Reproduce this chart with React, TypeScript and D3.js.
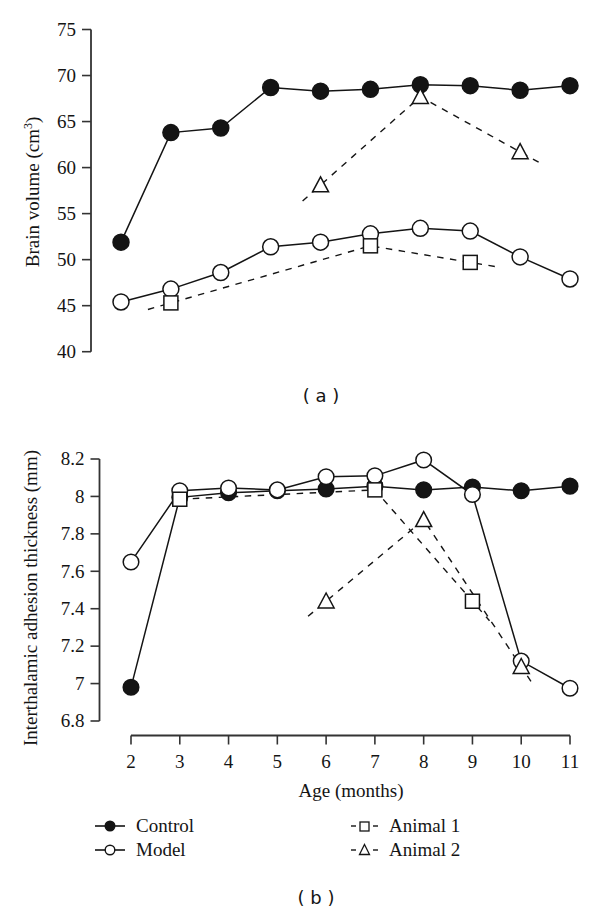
import React from 'react';
import * as d3 from 'd3';

// ---------- data ----------
const months = [2, 3, 4, 5, 6, 7, 8, 9, 10, 11];

// (a) brain volume (cm3)
const volControl = [51.9, 63.8, 64.3, 68.7, 68.3, 68.5, 69.0, 68.9, 68.4, 68.9];
const volModel = [45.4, 46.8, 48.6, 51.4, 51.9, 52.8, 53.4, 53.1, 50.3, 47.9];
const volAnimal1Months = [3, 7, 9];
const volAnimal1 = [45.3, 51.5, 49.7];
const volAnimal2Months = [6, 8, 10];
const volAnimal2 = [58.1, 67.7, 61.7];
const volTicks = [40, 45, 50, 55, 60, 65, 70, 75];

// (b) interthalamic adhesion thickness (mm)
const thkControl = [6.98, 7.995, 8.02, 8.03, 8.04, 8.055, 8.035, 8.05, 8.03, 8.055];
const thkModel = [7.65, 8.03, 8.045, 8.035, 8.105, 8.11, 8.195, 8.01, 7.12, 6.975];
const thkAnimal1Months = [3, 7, 9];
const thkAnimal1 = [7.985, 8.035, 7.44];
const thkAnimal2Months = [6, 8, 10];
const thkAnimal2 = [7.44, 7.875, 7.09];
const thkTicks = [6.8, 7, 7.2, 7.4, 7.6, 7.8, 8, 8.2];
const monthTicks = [2, 3, 4, 5, 6, 7, 8, 9, 10, 11];

const legendSolid = ['Control', 'Model'];
const legendDashed = ['Animal 1', 'Animal 2'];

// ---------- style ----------
const SERIF = '"Liberation Serif", "Times New Roman", serif';
const SANS = '"DejaVu Sans", Verdana, sans-serif';
const INK = '#141414';
const AXIS = '#333';

type P = [number, number];

function extendEnds(pts: P[], left: number, right: number): P[] {
  const out = pts.slice();
  if (pts.length >= 2) {
    const [a, b] = [pts[0], pts[1]];
    const s0 = (b[1] - a[1]) / (b[0] - a[0]);
    if (left > 0) out.unshift([a[0] - left, a[1] - s0 * left]);
    const [c, d] = [pts[pts.length - 2], pts[pts.length - 1]];
    const s1 = (d[1] - c[1]) / (d[0] - c[0]);
    if (right > 0) out.push([d[0] + right, d[1] + s1 * right]);
  }
  return out;
}

function Circles({ xs, ys, x, y, r, filled }: any) {
  return (
    <g>
      {xs.map((m: number, i: number) => (
        <circle key={i} cx={x(m)} cy={y(ys[i])} r={r}
          fill={filled ? INK : '#fff'} stroke={INK} strokeWidth={1.5} />
      ))}
    </g>
  );
}

function Squares({ xs, ys, x, y, s }: any) {
  return (
    <g>
      {xs.map((m: number, i: number) => (
        <rect key={i} x={x(m) - s / 2} y={y(ys[i]) - s / 2} width={s} height={s}
          fill="#fff" stroke={INK} strokeWidth={1.5} />
      ))}
    </g>
  );
}

function Triangles({ xs, ys, x, y, w, h }: any) {
  return (
    <g>
      {xs.map((m: number, i: number) => {
        const cx = x(m), cy = y(ys[i]);
        const d = `M${cx},${cy - h * 0.55}L${cx + w / 2},${cy + h * 0.45}L${cx - w / 2},${cy + h * 0.45}Z`;
        return <path key={i} d={d} fill="#fff" stroke={INK} strokeWidth={1.5} />;
      })}
    </g>
  );
}

function Panel({ xScale, yScale, control, model, a1m, a1, a2m, a2, ext, r }: any) {
  const line = d3.line<P>().x(d => xScale(d[0])).y(d => yScale(d[1]));
  const cPts: P[] = months.map((m, i) => [m, control[i]]);
  const mPts: P[] = months.map((m, i) => [m, model[i]]);
  const a1Pts = extendEnds(a1m.map((m: number, i: number) => [m, a1[i]]), ext[0], ext[1]);
  const a2Pts = extendEnds(a2m.map((m: number, i: number) => [m, a2[i]]), ext[2], ext[3]);
  return (
    <g>
      <path d={line(cPts) || ''} fill="none" stroke={INK} strokeWidth={1.5} />
      <path d={line(mPts) || ''} fill="none" stroke={INK} strokeWidth={1.5} />
      <path d={line(a1Pts) || ''} fill="none" stroke={INK} strokeWidth={1.4} strokeDasharray="6.5,6.5" />
      <path d={line(a2Pts) || ''} fill="none" stroke={INK} strokeWidth={1.4} strokeDasharray="6.5,6.5" />
      <Circles xs={months} ys={control} x={xScale} y={yScale} r={r} filled />
      <Circles xs={months} ys={model} x={xScale} y={yScale} r={r} filled={false} />
      <Squares xs={a1m} ys={a1} x={xScale} y={yScale} s={14} />
      <Triangles xs={a2m} ys={a2} x={xScale} y={yScale} w={16} h={15} />
    </g>
  );
}

function YAxis({ scale, ticks, x, fmt }: any) {
  const [lo, hi] = d3.extent(ticks) as [number, number];
  return (
    <g>
      <line x1={x} x2={x} y1={scale(lo)} y2={scale(hi)} stroke={AXIS} strokeWidth={1.8} />
      {ticks.map((t: number) => (
        <g key={t}>
          <line x1={x - 9} x2={x} y1={scale(t)} y2={scale(t)} stroke={AXIS} strokeWidth={1.6} />
          <text x={x - 15} y={scale(t)} dy="0.33em" textAnchor="end"
            fontFamily={SERIF} fontSize={19} fill={INK}>{fmt(t)}</text>
        </g>
      ))}
    </g>
  );
}

export default function App() {
  const xTop = d3.scaleLinear().domain([2, 11]).range([121, 570]);
  const yTop = d3.scaleLinear().domain([40, 75]).range([351.7, 29.5]);
  const xBot = d3.scaleLinear().domain([2, 11]).range([131, 570]);
  const yBot = d3.scaleLinear().domain([6.8, 8.2]).range([721, 459]);
  const xAxisY = 735.5;
  const fmt = (v: number) => String(+v.toFixed(1));

  return (
    <svg width={600} height={912} style={{ position: 'absolute', left: 0, top: 0, background: '#fff' }}>
      <rect width={600} height={912} fill="#fff" />
      {/* ---- (a) ---- */}
      <YAxis scale={yTop} ticks={volTicks} x={91} fmt={fmt} />
      <text transform="translate(39,192) rotate(-90)" textAnchor="middle"
        fontFamily={SERIF} fontSize={19} fill={INK}>
        Brain volume (cm<tspan dy="-7" fontSize={12}>3</tspan><tspan dy="7">)</tspan>
      </text>
      <Panel xScale={xTop} yScale={yTop} control={volControl} model={volModel}
        a1m={volAnimal1Months} a1={volAnimal1} a2m={volAnimal2Months} a2={volAnimal2}
        ext={[0.46, 0.52, 0.36, 0.39]} r={8} />
      <text x={321} y={396} dy="0.35em" textAnchor="middle" fontFamily={SANS} fontSize={18} fill={INK}>( a )</text>

      {/* ---- (b) ---- */}
      <YAxis scale={yBot} ticks={thkTicks} x={99.5} fmt={fmt} />
      <text transform="translate(37,598) rotate(-90)" textAnchor="middle"
        fontFamily={SERIF} fontSize={19} fill={INK}>Interthalamic adhesion thickness (mm)</text>
      <g>
        <line x1={xBot(2)} x2={xBot(11)} y1={xAxisY} y2={xAxisY} stroke={AXIS} strokeWidth={1.8} />
        {monthTicks.map(t => (
          <g key={t}>
            <line x1={xBot(t)} x2={xBot(t)} y1={xAxisY} y2={xAxisY + 9} stroke={AXIS} strokeWidth={1.6} />
            <text x={xBot(t)} y={xAxisY + 32} textAnchor="middle" fontFamily={SERIF} fontSize={19} fill={INK}>{t}</text>
          </g>
        ))}
        <text x={351} y={797} textAnchor="middle" fontFamily={SERIF} fontSize={19} fill={INK}>Age (months)</text>
      </g>
      <Panel xScale={xBot} yScale={yBot} control={thkControl} model={thkModel}
        a1m={thkAnimal1Months} a1={thkAnimal1} a2m={thkAnimal2Months} a2={thkAnimal2}
        ext={[0, 0.35, 0.37, 0.2]} r={7.8} />

      {/* ---- legend ---- */}
      {legendSolid.map((name, i) => {
        const cy = 826 + i * 24;
        return (
          <g key={name}>
            <line x1={95} x2={125} y1={cy} y2={cy} stroke={INK} strokeWidth={1.6} />
            <circle cx={110} cy={cy} r={4.8} fill={i === 0 ? INK : '#fff'} stroke={INK} strokeWidth={1.4} />
            <text x={136} y={cy} dy="0.33em" fontFamily={SERIF} fontSize={19} fill={INK}>{name}</text>
          </g>
        );
      })}
      {legendDashed.map((name, i) => {
        const cy = 826 + i * 24;
        const sx = 351;
        return (
          <g key={name}>
            <line x1={sx} x2={sx + 5} y1={cy} y2={cy} stroke={INK} strokeWidth={1.4} />
            <line x1={sx + 22} x2={sx + 27} y1={cy} y2={cy} stroke={INK} strokeWidth={1.4} />
            {i === 0
              ? <rect x={sx + 9} y={cy - 4} width={9} height={9} fill="#fff" stroke={INK} strokeWidth={1.3} />
              : <path d={`M${sx + 13.5},${cy - 5.5}L${sx + 18.5},${cy + 4.5}L${sx + 8.5},${cy + 4.5}Z`} fill="#fff" stroke={INK} strokeWidth={1.3} />}
            <text x={sx + 38} y={cy} dy="0.33em" fontFamily={SERIF} fontSize={19} fill={INK}>{name}</text>
          </g>
        );
      })}
      <text x={316} y={898} dy="0.35em" textAnchor="middle" fontFamily={SANS} fontSize={18} fill={INK}>( b )</text>
    </svg>
  );
}
